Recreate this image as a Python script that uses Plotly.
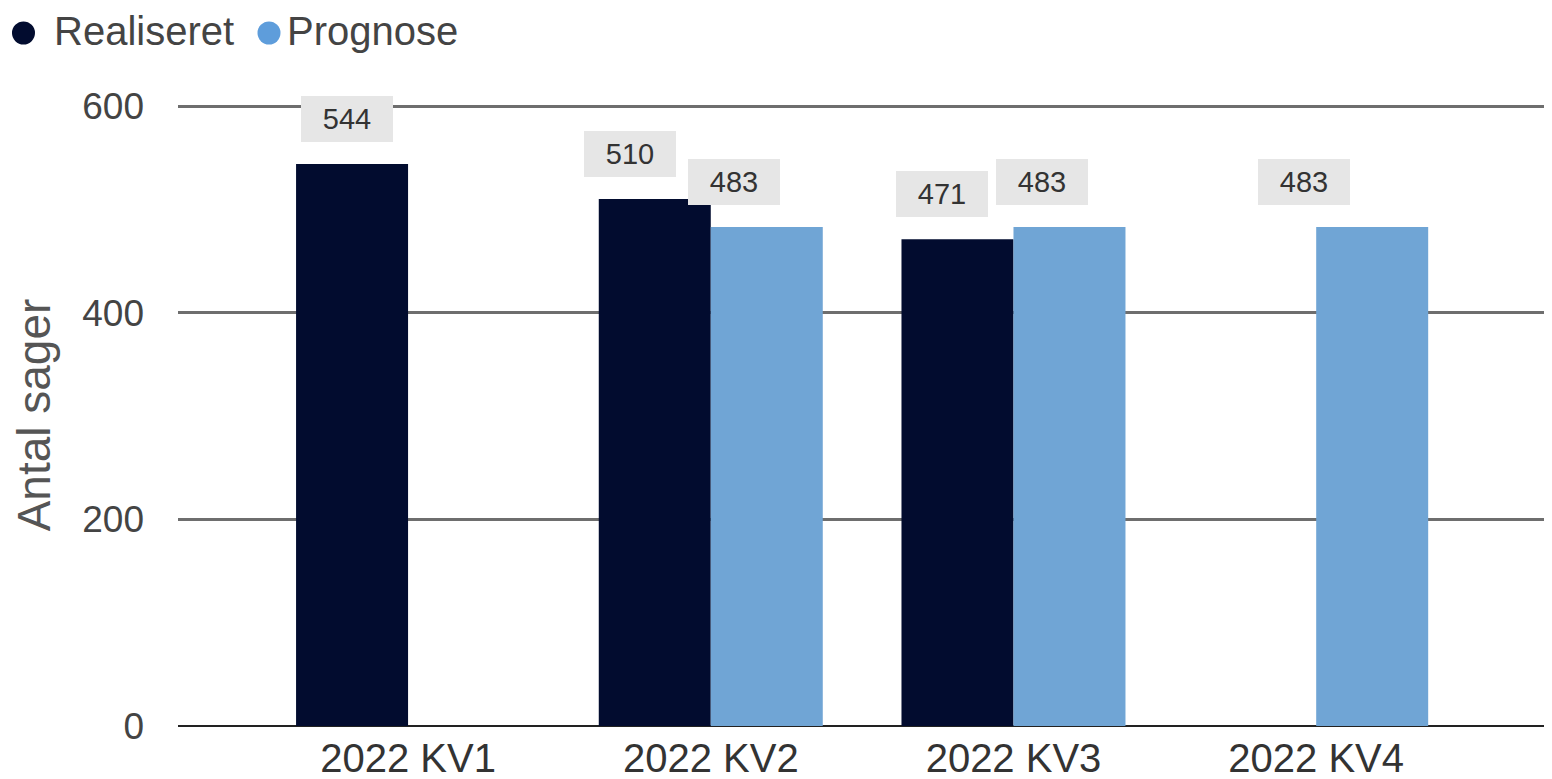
import plotly.graph_objects as go

categories = ["2022 KV1", "2022 KV2", "2022 KV3", "2022 KV4"]
realiseret = [544, 510, 471, None]
prognose = [None, 483, 483, 483]
y_ticks = [0, 200, 400, 600]
series_names = ["Realiseret", "Prognose"]

# label box horizontal nudges (pixels) relative to each bar, as seen in the reference
real_label_nudge = [-5, -25, -15, 0]
prog_label_nudge = [0, -33, -27, -68]

DARK = "#020c2f"
LIGHT = "#70a5d5"
LEGEND_LIGHT = "#5e9ddb"
FONT = "Liberation Sans, Arial, sans-serif"

fig = go.Figure()
fig.add_trace(go.Bar(x=categories, y=realiseret, name=series_names[0],
                     marker=dict(color=DARK, line=dict(width=0)), showlegend=False))
fig.add_trace(go.Bar(x=categories, y=prognose, name=series_names[1],
                     marker=dict(color=LIGHT, line=dict(width=0)), showlegend=False))

bar_px = 112
annotations = []
for i, c in enumerate(categories):
    for vals, off, nudge in ((realiseret, -bar_px / 2, real_label_nudge),
                             (prognose, bar_px / 2, prog_label_nudge)):
        v = vals[i]
        if v is None:
            continue
        annotations.append(dict(
            x=c, y=v, xref="x", yref="y", text=str(v), showarrow=False,
            xanchor="center", yanchor="bottom", xshift=off + nudge[i], yshift=22,
            font=dict(family=FONT, size=29, color="#333333"),
            bgcolor="#e6e6e6", width=90, height=44, borderpad=1, borderwidth=0,
        ))

# legend: circle dots + names (top-left, as in the reference)
legend_items = [(series_names[0], DARK, -0.11245, -0.0917),
                (series_names[1], LEGEND_LIGHT, 0.06623, 0.07788)]
shapes = []
for name, col, dot_x, txt_x in legend_items:
    shapes.append(dict(type="circle", xref="paper", yref="paper",
                       xsizemode="pixel", ysizemode="pixel",
                       xanchor=dot_x, yanchor=1.11415,
                       x0=-11.5, x1=11.5, y0=-11.5, y1=11.5,
                       fillcolor=col, line=dict(width=0)))
    annotations.append(dict(xref="paper", yref="paper", x=txt_x, y=1.1174,
                            xanchor="left", yanchor="middle", text=name,
                            showarrow=False,
                            font=dict(family=FONT, size=40, color="#444444")))

fig.update_layout(
    width=1544, height=771,
    margin=dict(l=170, r=0, t=96, b=53),
    paper_bgcolor="white", plot_bgcolor="white",
    barmode="group", bargap=0.26, bargroupgap=0,
    font=dict(family=FONT, color="#444444"),
    showlegend=False,
    annotations=annotations,
    shapes=shapes,
    xaxis=dict(range=[-0.76, 3.779], showgrid=False, showline=False, zeroline=False,
               tickfont=dict(family=FONT, size=40, color="#333333"),
               ticks="", automargin=False, ticklabelstandoff=5),
    yaxis=dict(range=[0, 602], tickvals=y_ticks, showgrid=True, gridcolor="#6e6e6e",
               gridwidth=3, zeroline=True, zerolinecolor="#222222", zerolinewidth=2,
               showline=False, ticks="", automargin=False, ticklabelstandoff=33,
               tickfont=dict(family=FONT, size=37, color="#444444"),
               title=dict(text="Antal sager", standoff=26,
                          font=dict(family=FONT, size=46, color="#555555"))),
)

fig.write_html("out.html")
